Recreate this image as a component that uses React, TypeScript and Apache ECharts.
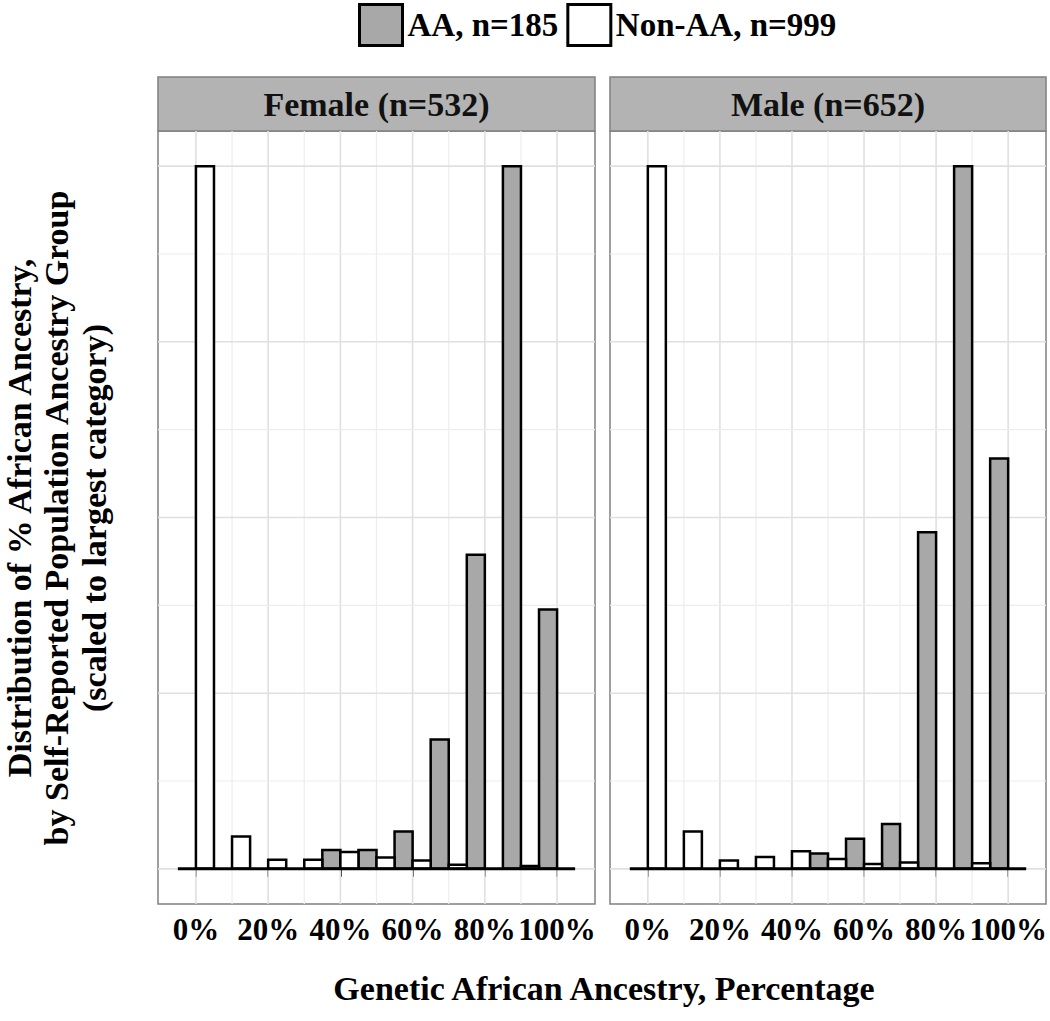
import React, { useEffect, useRef } from "react";
import * as echarts from "echarts";

const bins = [0, 10, 20, 30, 40, 50, 60, 70, 80, 90, 100];
const femaleAA = [0, 0, 0, 0, 0.027, 0.027, 0.053, 0.184, 0.447, 1, 0.369];
const femaleNonAA = [1, 0.046, 0.013, 0.013, 0.024, 0.016, 0.012, 0.006, 0, 0.004, 0];
const maleAA = [0, 0, 0, 0, 0, 0.022, 0.043, 0.064, 0.479, 1, 0.584];
const maleNonAA = [1, 0.053, 0.012, 0.017, 0.025, 0.014, 0.007, 0.009, 0, 0.008, 0];
const xTickValues = [0, 20, 40, 60, 80, 100];
const xGridValues = [0, 10, 20, 30, 40, 50, 60, 70, 80, 90, 100];
const yGridValues = [0, 0.125, 0.25, 0.375, 0.5, 0.625, 0.75, 0.875, 1];
const yMajor = [0, 0.25, 0.5, 0.75, 1];
const panelTitles = ["Female (n=532)", "Male (n=652)"];
const seriesNames = ["AA, n=185", "Non-AA, n=999"];
const yTitleLines = [
  "Distribution of % African Ancestry,",
  "by Self-Reported Population Ancestry Group",
  "(scaled to largest category)",
];
const xTitle = "Genetic African Ancestry, Percentage";

const FONT = "'Liberation Serif', 'Times New Roman', serif";
const AA_FILL = "#a8a8a8";
const STRIP_FILL = "#b3b3b3";
const BORDER = "#808080";

const panels = [
  { left: 158, width: 437, aa: femaleAA, non: femaleNonAA },
  { left: 610, width: 436, aa: maleAA, non: maleNonAA },
];
const TOP = 131;
const HEIGHT = 773;

export default function App() {
  const ref = useRef<HTMLDivElement>(null);
  useEffect(() => {
    if (!ref.current) return;
    const chart = echarts.init(ref.current, null, { renderer: "svg" });

    const grid: any[] = [];
    const xAxis: any[] = [];
    const yAxis: any[] = [];
    const series: any[] = [];
    const graphic: any[] = [];

    panels.forEach((p, i) => {
      grid.push({
        left: p.left,
        top: TOP,
        width: p.width,
        height: HEIGHT,
        show: true,
        borderColor: BORDER,
        borderWidth: 1.5,
        backgroundColor: "#fff",
      });
      xAxis.push({
        gridIndex: i,
        type: "value",
        min: -10.5,
        max: 110.5,
        axisLine: { show: false },
        splitLine: { show: false },
        axisTick: {
          show: true,
          customValues: xTickValues,
          length: 8,
          lineStyle: { color: "#333", width: 2 },
        },
        axisLabel: {
          show: true,
          customValues: xTickValues,
          formatter: (v: number) => v + "%",
          fontFamily: FONT,
          fontWeight: "bold",
          fontSize: 31,
          color: "#000",
          margin: 10,
          showMinLabel: true,
          showMaxLabel: true,
          hideOverlap: false,
        },
      });
      yAxis.push({
        gridIndex: i,
        type: "value",
        min: -0.05,
        max: 1.05,
        axisLine: { show: false },
        axisTick: { show: false },
        axisLabel: { show: false },
        splitLine: { show: false },
      });

      const gridData: any[] = [];
      xGridValues.forEach((v) => gridData.push([v, 0, xTickValues.includes(v) ? 1 : 0]));
      yGridValues.forEach((v) => gridData.push([v, 1, yMajor.includes(v) ? 1 : 0]));

      series.push({
        type: "custom",
        xAxisIndex: i,
        yAxisIndex: i,
        silent: true,
        z: 1,
        data: gridData,
        renderItem: (params: any, api: any) => {
          const cs = params.coordSys;
          const val = api.value(0);
          const kind = api.value(1);
          const major = api.value(2) === 1;
          const style = { stroke: major ? "#e0e0e0" : "#ededed", lineWidth: major ? 1.6 : 1.2 };
          if (kind === 0) {
            const pt = api.coord([val, 0]);
            return { type: "line", shape: { x1: pt[0], y1: cs.y, x2: pt[0], y2: cs.y + cs.height }, style };
          }
          const pt = api.coord([0, val]);
          return { type: "line", shape: { x1: cs.x, y1: pt[1], x2: cs.x + cs.width, y2: pt[1] }, style };
        },
      });

      const mkBars = (name: string, vals: number[], offset: number, fill: string) => ({
        type: "custom",
        name,
        xAxisIndex: i,
        yAxisIndex: i,
        z: 2,
        data: bins.map((b, k) => [b, vals[k]]),
        encode: { x: 0, y: 1 },
        renderItem: (params: any, api: any) => {
          const x = api.value(0);
          const v = api.value(1);
          if (!v) return null;
          const p0 = api.coord([x + offset, 0]);
          const p1 = api.coord([x + offset + 5, v]);
          return {
            type: "rect",
            shape: { x: p0[0], y: p1[1], width: p1[0] - p0[0], height: p0[1] - p1[1] },
            style: { fill, stroke: "#000", lineWidth: 2.5 },
          };
        },
      });
      series.push(mkBars(seriesNames[0], p.aa, -5, AA_FILL));
      series.push(mkBars(seriesNames[1], p.non, 0, "#ffffff"));

      series.push({
        type: "custom",
        xAxisIndex: i,
        yAxisIndex: i,
        silent: true,
        z: 3,
        data: [[-5, 105]],
        renderItem: (params: any, api: any) => {
          const a = api.coord([api.value(0), 0]);
          const b = api.coord([api.value(1), 0]);
          return { type: "line", shape: { x1: a[0], y1: a[1], x2: b[0], y2: b[1] }, style: { stroke: "#000", lineWidth: 3 } };
        },
      });

      graphic.push({
        type: "rect",
        shape: { x: p.left, y: 77, width: p.width, height: TOP - 77 },
        style: { fill: STRIP_FILL, stroke: BORDER, lineWidth: 1.5 },
      });
      graphic.push({
        type: "text",
        x: p.left + p.width / 2,
        y: 104,
        style: {
          text: panelTitles[i],
          fontFamily: FONT,
          fontWeight: "bold",
          fontSize: 34,
          fill: "#111",
          align: "center",
          verticalAlign: "middle",
          textAlign: "center",
          textVerticalAlign: "middle",
        },
      });
    });

    const yX = [19, 56, 94];
    yTitleLines.forEach((t, k) => {
      graphic.push({
        type: "text",
        x: yX[k],
        y: 518,
        rotation: Math.PI / 2,
        style: {
          text: t,
          fontFamily: FONT,
          fontWeight: "bold",
          fontSize: 34,
          fill: "#000",
          align: "center",
          verticalAlign: "middle",
          textAlign: "center",
          textVerticalAlign: "middle",
        },
      });
    });
    graphic.push({
      type: "text",
      x: 604,
      y: 988,
      style: {
        text: xTitle,
        fontFamily: FONT,
        fontWeight: "bold",
        fontSize: 34,
        fill: "#000",
        align: "center",
        verticalAlign: "middle",
        textAlign: "center",
        textVerticalAlign: "middle",
      },
    });

    chart.setOption({
      animation: false,
      backgroundColor: "#fff",
      legend: {
        left: 358,
        top: 3,
        padding: 0,
        itemWidth: 43,
        itemHeight: 41,
        itemGap: 8,
        selectedMode: false,
        textStyle: { fontFamily: FONT, fontWeight: "bold", fontSize: 33, color: "#000" },
        data: [
          { name: seriesNames[0], icon: "rect", itemStyle: { color: AA_FILL, borderColor: "#000", borderWidth: 3 } },
          { name: seriesNames[1], icon: "rect", itemStyle: { color: "#fff", borderColor: "#000", borderWidth: 3 } },
        ],
      },
      grid,
      xAxis,
      yAxis,
      series,
      graphic,
    });
    return () => chart.dispose();
  }, []);
  return <div ref={ref} style={{ position: "absolute", left: 0, top: 0, width: 1050, height: 1021 }} />;
}
